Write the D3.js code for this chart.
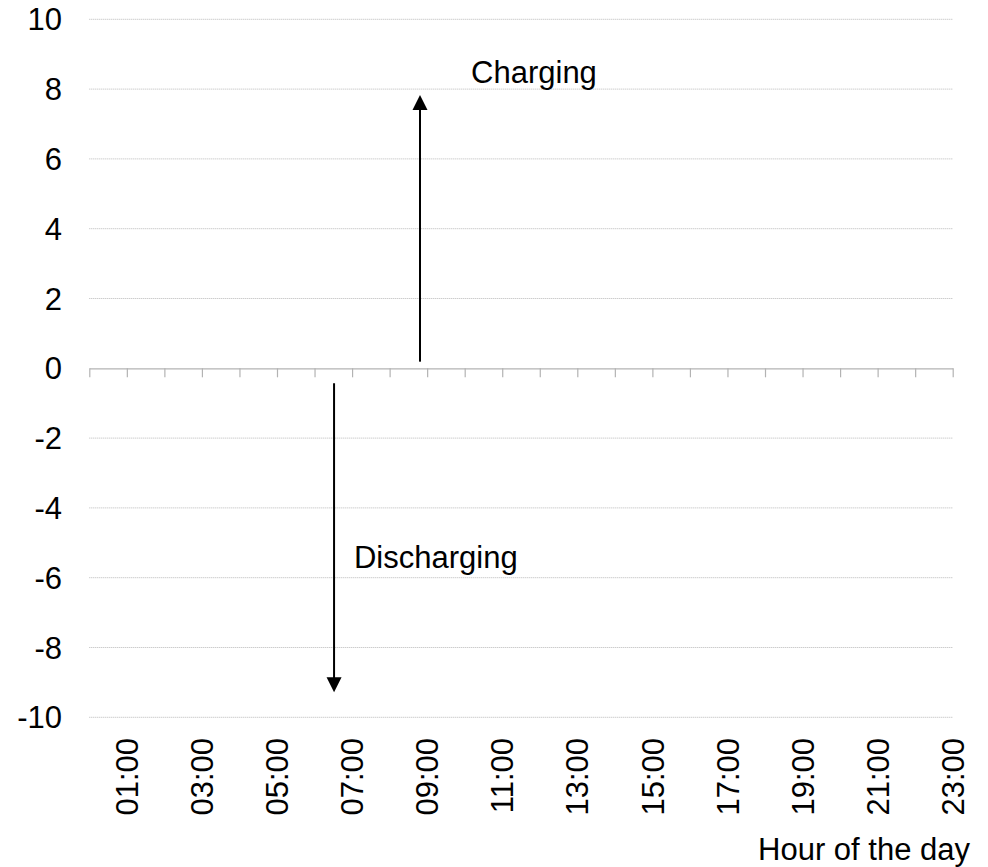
<!DOCTYPE html>
<html>
<head>
<meta charset="utf-8">
<script src="https://cdn.jsdelivr.net/npm/d3@7"></script>
<style>
  html, body { margin: 0; padding: 0; background: #fff; }
  svg text { font-family: "Liberation Sans", Arial, sans-serif; fill: #000; }
</style>
</head>
<body>
<svg id="chart" width="988" height="867"></svg>
<script>
// ---- data ----
const hours = d3.range(0, 24);                 // category positions 00:00 .. 23:00
const hourLabels = hours.map(h => (h < 10 ? "0" : "") + h + ":00");
const labelledHours = [1, 3, 5, 7, 9, 11, 13, 15, 17, 19, 21, 23];
const yTicks = [-10, -8, -6, -4, -2, 0, 2, 4, 6, 8, 10];
const yDomain = [-10, 10];
// annotation arrows: x in hours, from value -> to value
const arrows = [
  { name: "Charging",    x: 8.81, from: 0.19,  to: 7.83 },
  { name: "Discharging", x: 6.52, from: -0.43, to: -9.28 }
];
const arrowLabels = [
  { text: "Charging",    x: 10.17, y: 8.17 },
  { text: "Discharging", x: 7.05,  y: -5.73 }
];
const xTitle = "Hour of the day";

// ---- layout ----
const svg = d3.select("#chart");
const plotLeft = 89.3, plotRight = 952.7, plotTop = 19.3, plotBottom = 717.3;
const fs = 31;

const x = d3.scaleLinear().domain([0, 23]).range([plotLeft, plotRight]);
const y = d3.scaleLinear().domain(yDomain).range([plotBottom, plotTop]);

// gridlines
svg.append("g").selectAll("line")
  .data(yTicks.filter(v => v !== 0))
  .join("line")
  .attr("x1", plotLeft).attr("x2", plotRight)
  .attr("y1", d => y(d)).attr("y2", d => y(d))
  .attr("stroke", "#b8b8b8")
  .attr("stroke-width", 1)
  .attr("stroke-dasharray", "1,1");

// y labels
svg.append("g").selectAll("text")
  .data(yTicks)
  .join("text")
  .attr("x", 62)
  .attr("y", d => y(d))
  .attr("dy", "0.36em")
  .attr("text-anchor", "end")
  .attr("font-size", fs)
  .text(d => d);

// x axis at zero
const xAxis = d3.axisBottom(x)
  .tickValues(hours)
  .tickSize(9)
  .tickSizeOuter(0)
  .tickFormat("");
const gx = svg.append("g")
  .attr("transform", `translate(0,${y(0)})`)
  .call(xAxis);
gx.select(".domain").attr("stroke", "#b3b3b3").attr("stroke-width", 1.2);
gx.selectAll(".tick line").attr("stroke", "#b3b3b3").attr("stroke-width", 1.2);

// x labels (rotated), below plot
svg.append("g").selectAll("text")
  .data(labelledHours)
  .join("text")
  .attr("transform", d => `translate(${x(d)},${738}) rotate(-90)`)
  .attr("dy", "0.36em")
  .attr("text-anchor", "end")
  .attr("font-size", fs)
  .text(d => hourLabels[d]);

// x title
svg.append("text")
  .attr("x", 970)
  .attr("y", 860)
  .attr("text-anchor", "end")
  .attr("font-size", fs)
  .text(xTitle);

// arrows
const headLen = 15, headHalf = 7.5;
const ag = svg.append("g");
arrows.forEach(a => {
  const x0 = x(a.x), y0 = y(a.from), y1 = y(a.to);
  const dir = y1 < y0 ? 1 : -1; // +1 when pointing up
  ag.append("line")
    .attr("x1", x0).attr("x2", x0)
    .attr("y1", y0).attr("y2", y1 + dir * headLen * 0.8)
    .attr("stroke", "#000").attr("stroke-width", 2);
  ag.append("path")
    .attr("d", d3.line()([
      [x0, y1],
      [x0 - headHalf, y1 + dir * headLen],
      [x0 + headHalf, y1 + dir * headLen]
    ]) + "Z")
    .attr("fill", "#000");
});

// arrow labels
svg.append("g").selectAll("text")
  .data(arrowLabels)
  .join("text")
  .attr("x", d => x(d.x))
  .attr("y", d => y(d.y))
  .attr("font-size", fs)
  .text(d => d.text);
</script>
</body>
</html>
